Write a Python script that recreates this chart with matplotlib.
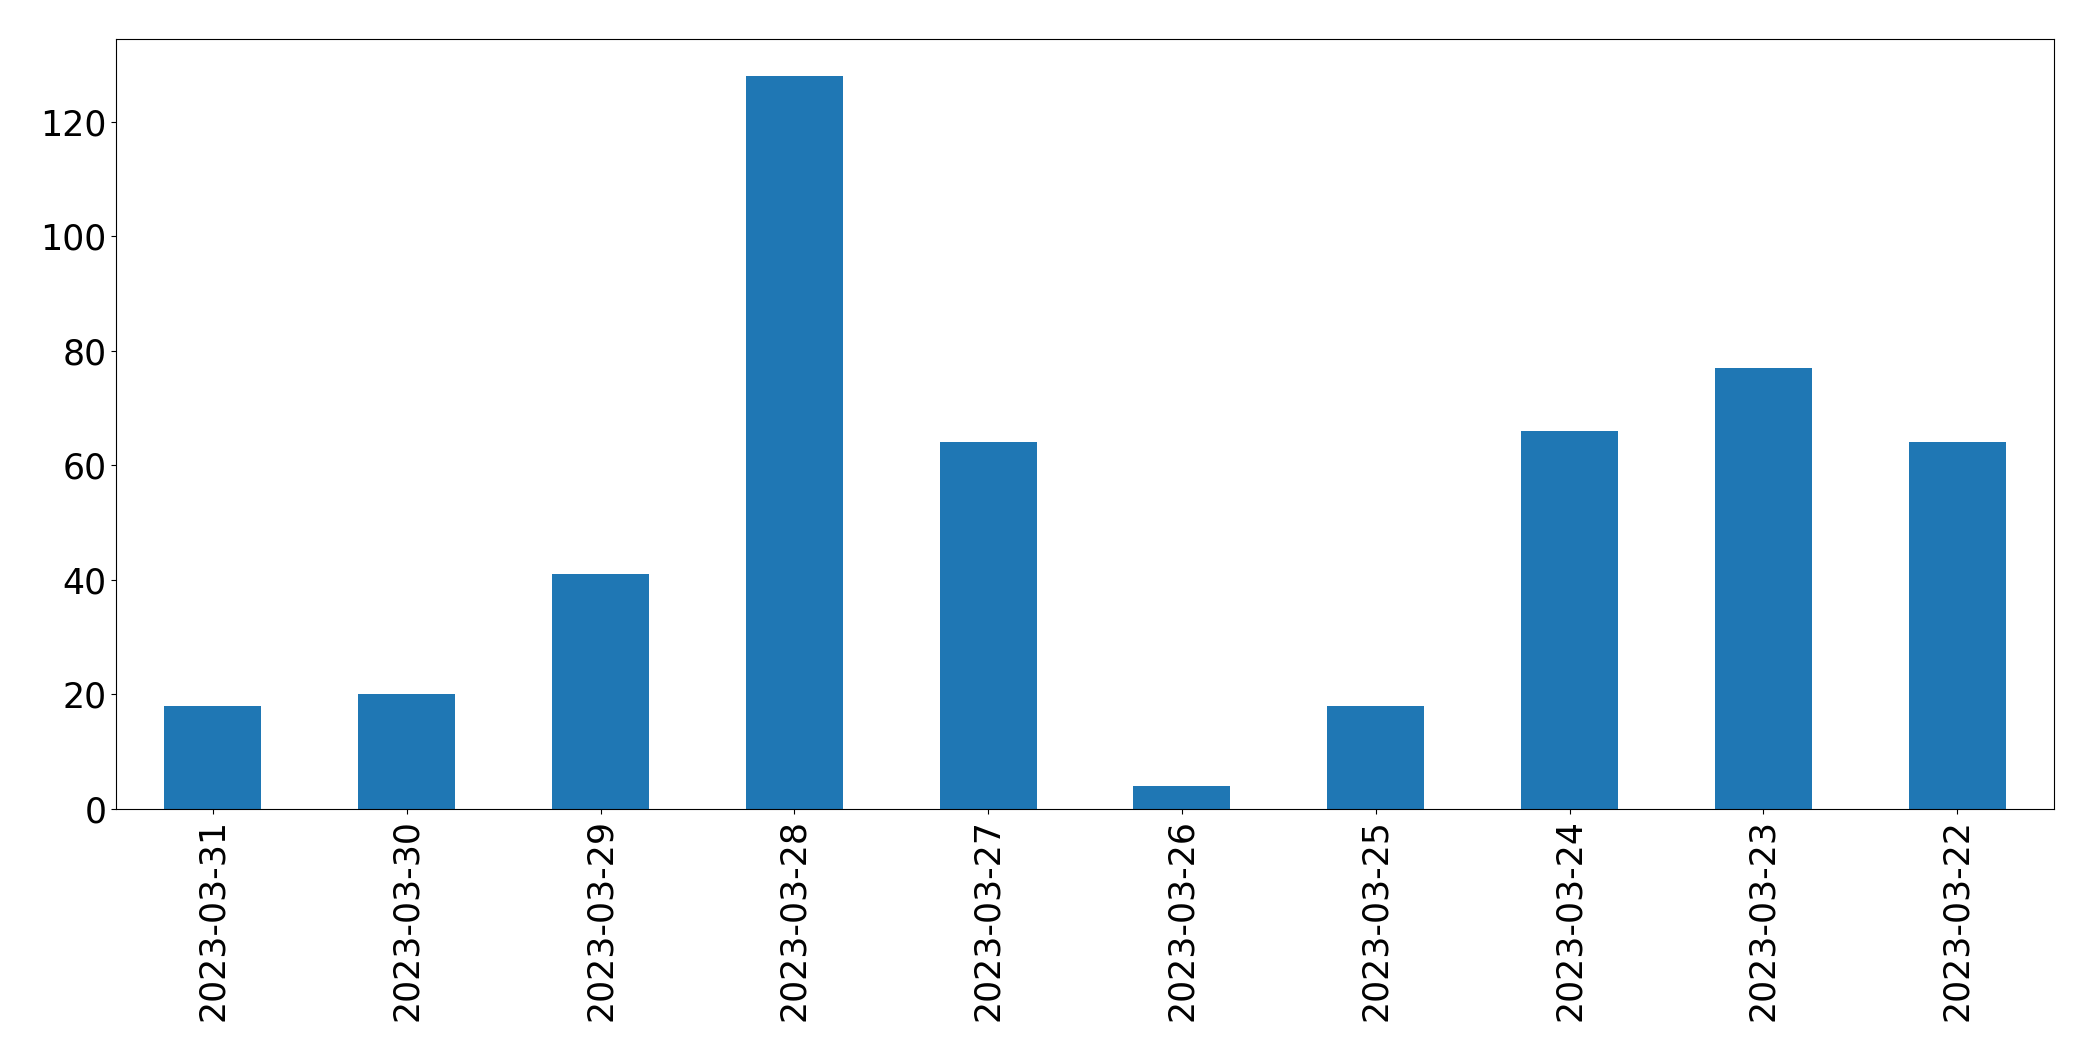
import matplotlib
matplotlib.use("Agg")
import matplotlib.pyplot as plt

dates = ["2023-03-31", "2023-03-30", "2023-03-29", "2023-03-28", "2023-03-27",
         "2023-03-26", "2023-03-25", "2023-03-24", "2023-03-23", "2023-03-22"]
counts = [18, 20, 41, 128, 64, 4, 18, 66, 77, 64]

fig = plt.figure(figsize=(20.93, 10.61), dpi=100)
ax = fig.add_axes([116/2093, 1 - 809/1061, (2054-116)/2093, (809-39)/1061])
x = range(len(dates))
ax.bar(x, counts, width=0.5, color="#1f77b4")
ax.set_xlim(-0.5, len(dates) - 0.5)
ax.set_xticks(list(x))
ax.set_xticklabels(dates, rotation=90)
ax.tick_params(labelsize=25)
fig.savefig("out.png", dpi=100)
